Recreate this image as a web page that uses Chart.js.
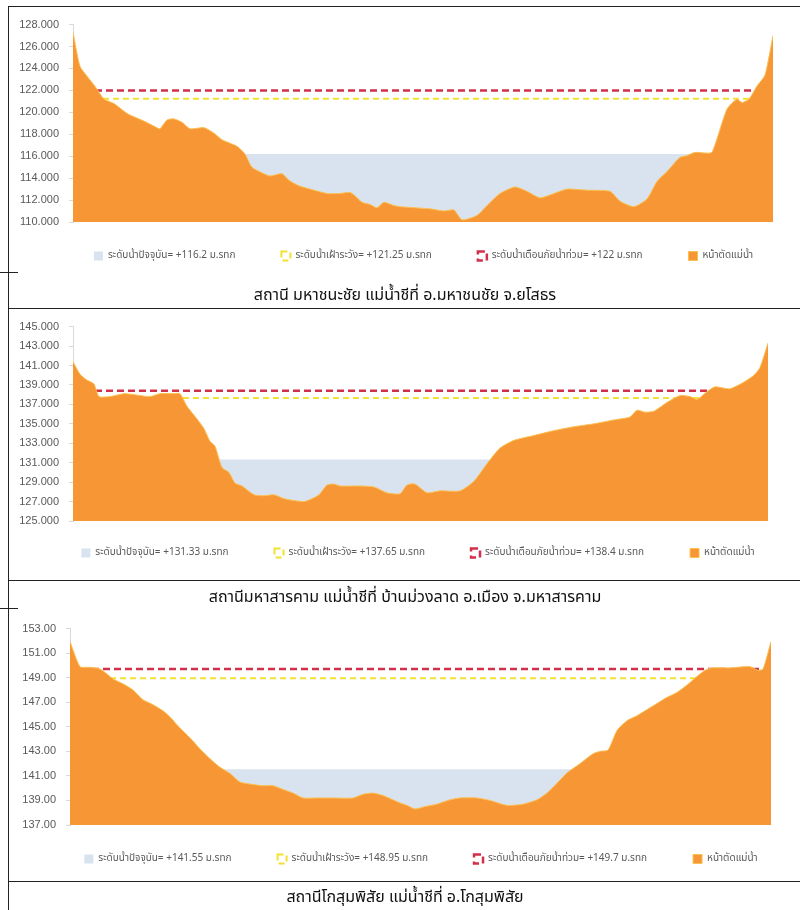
<!DOCTYPE html>
<html>
<head>
<meta charset="utf-8">
<script src="https://cdn.jsdelivr.net/npm/chart.js@4.4.0/dist/chart.umd.min.js"></script>
<style>
  body { margin: 0; background: #fff; width: 800px; height: 910px; position: relative; overflow: hidden; }
  canvas { position: absolute; }
  .hline { position: absolute; height: 0; border-top: 1.5px solid #222; }
  .vline { position: absolute; width: 0; border-left: 1.5px solid #222; }
  .caption { position: absolute; left: 10px; width: 790px; text-align: center;
             font-family: "Noto Sans Thai", "Noto Sans", "DejaVu Sans", sans-serif; font-size: 16px; color: #111; }
</style>
</head>
<body>
<canvas id="c1" width="820" height="280" style="left:10px; top:8px;"></canvas>
<div class="caption" style="top:283px;">สถานี มหาชนะชัย แม่น้ำชีที่ อ.มหาชนชัย จ.ยโสธร</div>
<canvas id="c2" width="810" height="277" style="left:10px; top:310px;"></canvas>
<div class="caption" style="top:585px;">สถานีมหาสารคาม แม่น้ำชีที่ บ้านม่วงลาด อ.เมือง จ.มหาสารคาม</div>
<canvas id="c3" width="810" height="279" style="left:10px; top:612px;"></canvas>
<div class="caption" style="top:885px;">สถานีโกสุมพิสัย แม่น้ำชีที่ อ.โกสุมพิสัย</div>

<div class="vline" style="left:8px; top:6px; height:904px;"></div>
<div class="hline" style="left:8px; top:6px; width:792px;"></div>
<div class="hline" style="left:0px; top:272px; width:18px;"></div>
<div class="hline" style="left:8px; top:308px; width:792px;"></div>
<div class="hline" style="left:8px; top:580px; width:792px;"></div>
<div class="hline" style="left:0px; top:608px; width:18px;"></div>
<div class="hline" style="left:8px; top:881px; width:792px;"></div>

<script>
// station 1 - มหาชนะชัย
const dist1 = [0, 7, 14, 21, 27, 31, 41, 54, 61, 71, 84, 87, 94, 101, 109, 117, 131, 141, 149, 164,
    172, 179, 191, 197, 209, 216, 226, 237, 254, 267, 277, 282, 289, 297, 304, 311, 321, 327, 357, 371,
    381, 389, 404, 414, 427, 442, 454, 467, 481, 494, 514, 537, 547, 561, 574, 584, 594, 607, 614, 622,
    631, 639, 654, 664, 669, 676, 684, 692, 700];
const elev1 = [127.3, 124.2, 123.3, 122.5, 121.7, 121.2, 120.8, 119.9, 119.6, 119.2, 118.6, 118.5, 119.3, 119.4, 119.1, 118.5, 118.6, 118.1, 117.5, 116.9,
    116.2, 115.0, 114.4, 114.2, 114.4, 113.8, 113.3, 113.0, 112.6, 112.6, 112.7, 112.4, 111.8, 111.6, 111.3, 111.8, 111.5, 111.4, 111.2, 111.0,
    111.1, 110.2, 110.6, 111.5, 112.6, 113.2, 112.8, 112.2, 112.6, 113.0, 112.9, 112.8, 111.9, 111.4, 112.1, 113.7, 114.6, 115.9, 116.05, 116.35,
    116.3, 116.35, 120.3, 121.2, 120.9, 121.2, 122.4, 123.4, 127.0];
const levels1 = [116.2, 121.25, 122];
const yAxis1 = [110, 128, 2, 3]; // min, max, step, decimals

// station 2 - มหาสารคาม
const dist2 = [0, 7, 14, 21, 26, 37, 51, 61, 77, 87, 101, 107, 114, 124, 131, 137, 142, 149, 156, 162,
    169, 181, 191, 201, 211, 221, 231, 237, 246, 254, 261, 267, 287, 301, 314, 327, 334, 342, 354, 367,
    387, 401, 414, 427, 441, 461, 481, 501, 521, 541, 557, 564, 572, 581, 594, 607, 617, 624, 634, 642,
    657, 671, 681, 687, 695];
const elev2 = [141.4, 140.1, 139.5, 139.1, 137.8, 137.8, 138.1, 138.0, 137.8, 138.1, 138.1, 138.1, 136.8, 135.5, 134.5, 133.2, 132.7, 130.5, 130.0, 128.9,
    128.6, 127.7, 127.6, 127.7, 127.3, 127.1, 127.0, 127.2, 127.7, 128.7, 128.8, 128.6, 128.6, 128.5, 127.9, 127.8, 128.7, 128.8, 127.9, 128.1,
    128.1, 129.1, 130.9, 132.5, 133.3, 133.8, 134.3, 134.7, 135.0, 135.4, 135.7, 136.4, 136.2, 136.3, 137.2, 137.9, 137.8, 137.5, 138.3, 138.8,
    138.6, 139.3, 140.0, 140.8, 143.3];
const levels2 = [131.33, 137.65, 138.4];
const yAxis2 = [125, 145, 2, 3];

// station 3 - โกสุมพิสัย
const dist3 = [0, 10, 20, 30, 37, 43, 53, 63, 73, 83, 93, 100, 110, 120, 130, 140, 150, 160, 170, 183,
    193, 203, 213, 223, 233, 247, 263, 283, 293, 303, 313, 330, 337, 345, 355, 367, 380, 390, 407, 420,
    437, 453, 467, 477, 487, 497, 510, 523, 530, 538, 547, 557, 567, 577, 587, 597, 607, 617, 627, 635,
    642, 660, 680, 688, 693, 701];
const elev3 = [151.95, 149.9, 149.85, 149.7, 149.3, 148.9, 148.5, 148.0, 147.2, 146.8, 146.3, 145.8, 144.9, 144.1, 143.2, 142.4, 141.7, 141.2, 140.5, 140.3,
    140.2, 140.2, 139.9, 139.6, 139.2, 139.2, 139.2, 139.2, 139.5, 139.6, 139.4, 138.8, 138.6, 138.3, 138.5, 138.7, 139.05, 139.2, 139.2, 139.0,
    138.6, 138.7, 139.05, 139.6, 140.4, 141.25, 142.0, 142.8, 143.0, 143.1, 144.7, 145.5, 145.9, 146.4, 146.9, 147.4, 147.8, 148.4, 149.1, 149.6,
    149.8, 149.8, 149.9, 149.6, 149.7, 151.95];
const levels3 = [141.55, 148.95, 149.7];
const yAxis3 = [137, 153, 2, 2];

const levelNames = ["ระดับน้ำปัจจุบัน", "ระดับน้ำเฝ้าระวัง", "ระดับน้ำเตือนภัยน้ำท่วม"];
const sectionName = "หน้าตัดแม่น้ำ";

const thaiFont = '"Noto Sans Thai", "Noto Sans", "DejaVu Sans", sans-serif';
const legendGap = 46;

// legend item gap is wide, but the row should sit closer to the plot
const liftLegend = {
    id: 'liftLegend',
    afterLayout(chart, args, opts) {
        chart.legend.top -= opts.by;
        chart.legend.bottom -= opts.by;
    }
};

function flat(dist, v) {
    return [{ x: dist[0], y: v }, { x: dist[dist.length - 1], y: v }];
}

// box = [padLeft, padTop, yAxisWidth, rightGap, legendLift]
function makeChart(id, dist, elev, levels, yAxis, box) {
    const pts = dist.map((d, i) => ({ x: d, y: elev[i] }));
    return new Chart(document.getElementById(id), {
        type: 'line',
        plugins: [liftLegend],
        data: {
            datasets: [
                {
                    label: levelNames[0] + "= +" + levels[0] + " ม.รทก",
                    data: flat(dist, levels[0]),
                    backgroundColor: '#d9e2ef',
                    borderColor: '#d9e2ef',
                    borderWidth: 0,
                    fill: 'start',
                    pointRadius: 0,
                    order: 3
                },
                {
                    label: levelNames[1] + "= +" + levels[1] + " ม.รทก",
                    data: flat(dist, levels[1]),
                    backgroundColor: 'rgba(255,255,255,0)',
                    borderColor: '#f2e130',
                    borderWidth: 2,
                    borderDash: [6, 4],
                    fill: false,
                    pointRadius: 0,
                    order: 2
                },
                {
                    label: levelNames[2] + "= +" + levels[2] + " ม.รทก",
                    data: flat(dist, levels[2]),
                    backgroundColor: 'rgba(255,255,255,0)',
                    borderColor: '#d1304a',
                    borderWidth: 2.5,
                    borderDash: [7, 4],
                    fill: false,
                    pointRadius: 0,
                    order: 1
                },
                {
                    label: sectionName,
                    data: pts,
                    backgroundColor: '#f79634',
                    borderColor: '#fbc052',
                    borderWidth: 1,
                    fill: 'start',
                    pointRadius: 0,
                    tension: 0.2,
                    order: 0
                }
            ]
        },
        options: {
            responsive: false,
            animation: false,
            layout: { padding: { left: box[0], top: box[1], right: 0, bottom: 0 } },
            plugins: {
                tooltip: { enabled: false },
                liftLegend: { by: box[4] },
                legend: {
                    position: 'bottom',
                    labels: {
                        boxWidth: 9,
                        boxHeight: 9,
                        padding: legendGap,
                        color: '#595959',
                        font: { family: thaiFont, size: 10 },
                        sort: (a, b) => a.datasetIndex - b.datasetIndex
                    }
                }
            },
            scales: {
                x: {
                    type: 'linear',
                    display: false,
                    min: dist[0],
                    max: dist[dist.length - 1]
                },
                y: {
                    min: yAxis[0],
                    max: yAxis[1],
                    ticks: {
                        stepSize: yAxis[2],
                        color: '#595959',
                        padding: 10,
                        font: { family: '"Liberation Sans", sans-serif', size: 11 },
                        callback: v => v.toFixed(yAxis[3])
                    },
                    grid: { drawOnChartArea: false, color: '#d9d9d9', tickLength: 4 },
                    border: { color: '#d9d9d9' },
                    afterFit: s => { s.width = box[2]; }
                },
                // empty right axis, keeps the plot narrower than the legend row
                yr: {
                    position: 'right',
                    ticks: { display: false },
                    grid: { display: false },
                    border: { display: false },
                    afterFit: s => { s.width = box[3]; }
                }
            }
        }
    });
}

makeChart('c1', dist1, elev1, levels1, yAxis1, [7, 9, 56, 57, 17]);
makeChart('c2', dist2, elev2, levels2, yAxis2, [6, 7, 57, 52, 19]);
makeChart('c3', dist3, elev3, levels3, yAxis3, [12, 8, 48, 49, 17]);
</script>
</body>
</html>
